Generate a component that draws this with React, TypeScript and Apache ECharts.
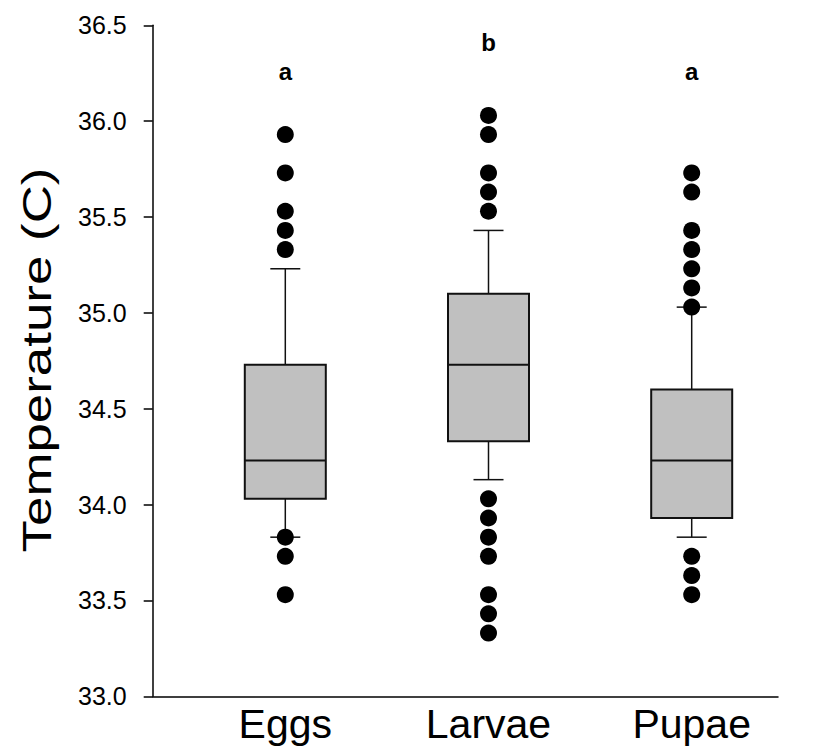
import React, { useEffect, useRef } from 'react';
import * as echarts from 'echarts';

const categories = ['Eggs', 'Larvae', 'Pupae'];
// [lower whisker, Q1, median, Q3, upper whisker]
const boxStats = [
  [33.83, 34.03, 34.23, 34.73, 35.23],
  [34.13, 34.33, 34.73, 35.1, 35.43],
  [33.83, 33.93, 34.23, 34.6, 35.03],
];
const eggsOutliers = [35.93, 35.73, 35.53, 35.43, 35.33, 33.83, 33.73, 33.53];
const larvaeOutliers = [36.03, 35.93, 35.73, 35.63, 35.53, 34.03, 33.93, 33.83, 33.73, 33.53, 33.43, 33.33];
const pupaeOutliers = [35.73, 35.63, 35.43, 35.33, 35.23, 35.13, 35.03, 33.73, 33.63, 33.53];
const groupLetters = ['a', 'b', 'a'];
const letterHeights = [36.26, 36.41, 36.26];
const yMin = 33.0;
const yMax = 36.5;
const yInterval = 0.5;
const yTitle = 'Temperature (C)';

const FONT = 'Arial, "Liberation Sans", sans-serif';

export default function App() {
  const ref = useRef<HTMLDivElement>(null);
  useEffect(() => {
    if (!ref.current) return;
    const chart = echarts.init(ref.current, null, { renderer: 'svg' });
    const outlierSets = [eggsOutliers, larvaeOutliers, pupaeOutliers];
    const outlierData: number[][] = [];
    outlierSets.forEach((arr, i) => arr.forEach((v) => outlierData.push([i, v])));
    const boxData = boxStats.map((s, i) => [i, ...s]);
    const letterData = letterHeights.map((h, i) => [i, h]);
    const BOX_W = 81;
    const CAP_W = 30;
    const top = 25.3;
    const height = 671;

    chart.setOption({
      animation: false,
      backgroundColor: '#fff',
      graphic: [
        {
          type: 'text',
          x: 37,
          y: 360,
          rotation: Math.PI / 2,
          scaleX: 1.29,
          style: {
            text: yTitle,
            fill: '#000',
            font: '41px Arial, "Liberation Sans", sans-serif',
            textAlign: 'center',
            textVerticalAlign: 'middle',
          },
        },
      ],
      grid: [
        { left: 152.7, top, width: 625.3, height },
        { left: 183.7, top, width: 609.6, height },
      ],
      xAxis: [
        {
          type: 'value',
          gridIndex: 0,
          min: 0,
          max: 1,
          axisLine: { show: true, onZero: false, lineStyle: { color: '#000', width: 1.5 } },
          axisTick: { show: false },
          axisLabel: { show: false },
          splitLine: { show: false },
        },
        {
          type: 'category',
          gridIndex: 1,
          data: categories,
          boundaryGap: true,
          axisLine: { show: false },
          axisTick: { show: false },
          axisLabel: {
            show: true,
            color: '#000',
            fontFamily: FONT,
            fontSize: 41,
            margin: 7,
          },
          splitLine: { show: false },
        },
      ],
      yAxis: [
        {
          type: 'value',
          gridIndex: 0,
          min: yMin,
          max: yMax,
          interval: yInterval,
          axisLine: { show: true, onZero: false, lineStyle: { color: '#000', width: 1.5 } },
          axisTick: { show: true, length: 9, inside: false, lineStyle: { color: '#000', width: 1.5 } },
          axisLabel: {
            color: '#000',
            fontFamily: FONT,
            fontSize: 25,
            margin: 26,
            formatter: (v: number) => v.toFixed(1),
          },
          splitLine: { show: false },
        },
        {
          type: 'value',
          gridIndex: 1,
          min: yMin,
          max: yMax,
          interval: yInterval,
          show: false,
        },
      ],
      series: [
        {
          type: 'custom',
          xAxisIndex: 1,
          yAxisIndex: 1,
          data: boxData,
          encode: { x: 0, y: [1, 2, 3, 4, 5] },
          z: 2,
          renderItem: (params: any, api: any) => {
            const x = api.value(0);
            const lo = api.coord([x, api.value(1)]);
            const q1 = api.coord([x, api.value(2)]);
            const med = api.coord([x, api.value(3)]);
            const q3 = api.coord([x, api.value(4)]);
            const hi = api.coord([x, api.value(5)]);
            const cx = lo[0];
            const half = BOX_W / 2;
            const ch = CAP_W / 2;
            const ws = { stroke: '#111', lineWidth: 1.5 };
            return {
              type: 'group',
              children: [
                { type: 'line', shape: { x1: cx, y1: hi[1], x2: cx, y2: q3[1] }, style: ws },
                { type: 'line', shape: { x1: cx, y1: q1[1], x2: cx, y2: lo[1] }, style: ws },
                { type: 'line', shape: { x1: cx - ch, y1: hi[1], x2: cx + ch, y2: hi[1] }, style: ws },
                { type: 'line', shape: { x1: cx - ch, y1: lo[1], x2: cx + ch, y2: lo[1] }, style: ws },
                {
                  type: 'rect',
                  shape: { x: cx - half, y: q3[1], width: BOX_W, height: q1[1] - q3[1] },
                  style: { fill: '#c0c0c0', stroke: '#111', lineWidth: 2 },
                },
                { type: 'line', shape: { x1: cx - half, y1: med[1], x2: cx + half, y2: med[1] }, style: { stroke: '#111', lineWidth: 2 } },
              ],
            };
          },
        },
        {
          type: 'scatter',
          xAxisIndex: 1,
          yAxisIndex: 1,
          data: outlierData,
          symbol: 'circle',
          symbolSize: 17,
          itemStyle: { color: '#000', opacity: 1 },
          z: 5,
        },
        {
          type: 'scatter',
          xAxisIndex: 1,
          yAxisIndex: 1,
          data: letterData,
          symbolSize: 1,
          itemStyle: { color: 'rgba(0,0,0,0)', opacity: 1 },
          label: {
            show: true,
            position: 'inside',
            formatter: (p: any) => groupLetters[p.dataIndex],
            color: '#000',
            opacity: 1,
            fontFamily: FONT,
            fontWeight: 'bold',
            fontSize: 24,
          },
          z: 6,
        },
      ],
    });
    return () => chart.dispose();
  }, []);
  return (
    <div
      ref={ref}
      style={{ position: 'fixed', left: 0, top: 0, width: 817, height: 755, background: '#fff' }}
    />
  );
}
